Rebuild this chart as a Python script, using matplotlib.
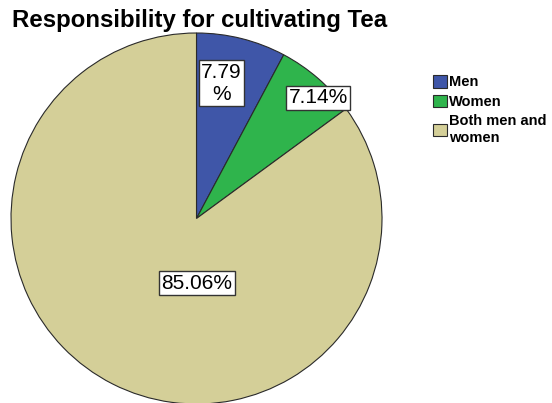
import matplotlib.pyplot as plt

plt.rcParams['font.family'] = ['Liberation Sans', 'DejaVu Sans']

# share of respondents responsible for cultivating tea
groups = ['Men', 'Women', 'Both men and\nwomen']
shares = [7.79, 7.14, 85.06]
pct_labels = ['7.79\n%', '7.14%', '85.06%']
colors = ['#3f56a8', '#2fb44c', '#d4cf98']

fig = plt.figure(figsize=(5.52, 4.03), dpi=100)
ax = fig.add_axes([11 / 552, -1 / 403, 371 / 552, 371 / 403])

wedges, _ = ax.pie(shares, colors=colors, startangle=90, counterclock=False,
                   wedgeprops=dict(edgecolor='#2a2a2a', linewidth=0.8))
ax.set_aspect('equal')
ax.set_xlim(-1, 1)
ax.set_ylim(-1, 1)

# percentage boxes placed along each wedge
label_pos = [(0.135, 0.728), (0.655, 0.65), (0.0, -0.35)]
for (x, y), txt in zip(label_pos, pct_labels):
    ax.text(x, y, txt, ha='center', va='center', fontsize=15, linespacing=1.2,
            bbox=dict(boxstyle='square,pad=0.12', facecolor='white',
                      edgecolor='#333333', linewidth=1.0))

fig.text(12 / 552, 1 - 20 / 403, 'Responsibility for cultivating Tea',
         fontsize=17.3, fontweight='bold', ha='left', va='center')

leg = fig.legend(wedges, groups, loc='upper left',
                 bbox_to_anchor=(433 / 552, 1 - 75 / 403), frameon=False,
                 prop=dict(size=10.5, weight='bold'), handlelength=0.95,
                 handleheight=0.95, handletextpad=0.12, labelspacing=0.37,
                 borderpad=0, borderaxespad=0)

fig.savefig('out.png', dpi=100)
